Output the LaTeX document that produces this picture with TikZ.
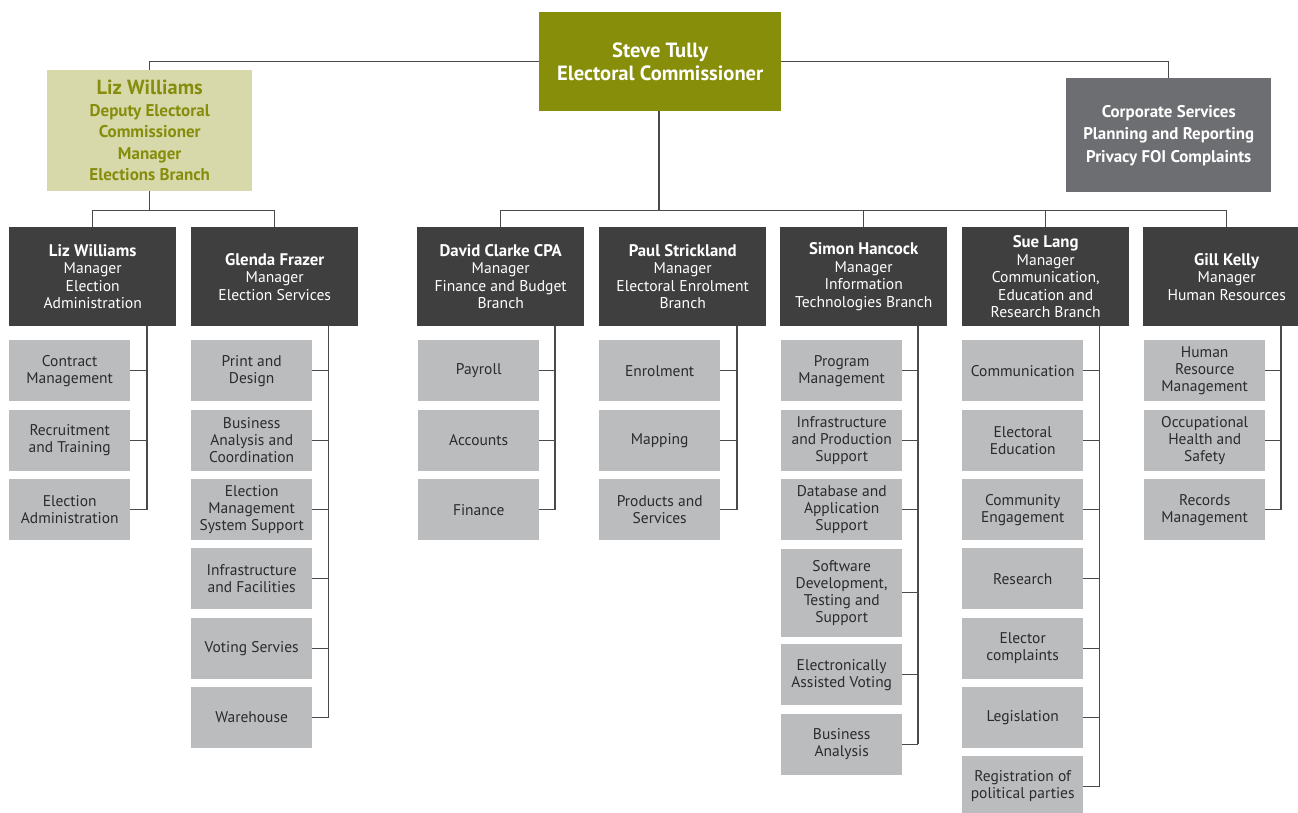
\documentclass[tikz,border=0pt]{standalone}
\usepackage{fontspec}
\setmainfont{PT Sans}
\usetikzlibrary{calc}
\definecolor{olive}{HTML}{878E0A}
\definecolor{deplight}{HTML}{D8D9AA}
\definecolor{deptext}{HTML}{868D0C}
\definecolor{corpc}{HTML}{6D6E71}
\definecolor{mgrc}{HTML}{3F3F40}
\definecolor{subc}{HTML}{BBBCBE}
\definecolor{subtext}{HTML}{2B2B2B}
\definecolor{linec}{HTML}{4A4A4A}
\tikzset{
  subbox/.style={fill=subc, text=subtext, minimum width=121pt, inner sep=0pt, align=center,
    anchor=north west, font=\fontsize{15.5}{17}\selectfont},
  mgrbox/.style={fill=mgrc, text=white, minimum width=167pt, minimum height=99pt, inner sep=0pt,
    align=center, anchor=north west, font=\fontsize{15.6}{17.5}\selectfont},
  conn/.style={draw=linec, line width=1.3pt},
}
\newcommand\mysub[5]{\node[subbox, minimum height=#4pt] (#1) at (#2,#3) {#5};}
\newcommand\nm[1]{{\bfseries\fontsize{16.8}{17.5}\selectfont #1}}
\begin{document}
\begin{tikzpicture}[x=1pt,y=-1pt]
\useasboundingbox (0,0) rectangle (1298,813);
% top level
\node[fill=olive, text=white, minimum width=242pt, minimum height=99pt, inner sep=0pt, align=center,
  anchor=north west, font=\bfseries\fontsize{20.6}{22.5}\selectfont] (steve) at (539,12)
  {Steve Tully\\Electoral Commissioner};
\node[fill=deplight, text=deptext, minimum width=205pt, minimum height=121pt, inner sep=0pt, align=center,
  anchor=north west, font=\bfseries\fontsize{17}{21.5}\selectfont] (dep) at (47,70)
  {{\fontsize{20.4}{21.5}\selectfont Liz Williams}\\Deputy Electoral\\Commissioner\\Manager\\Elections Branch};
\node[fill=corpc, text=white, minimum width=205pt, minimum height=114pt, inner sep=0pt, align=center,
  anchor=north west, font=\bfseries\fontsize{16.9}{22.5}\selectfont] (corp) at (1066,78)
  {Corporate Services\\Planning and Reporting\\Privacy FOI Complaints};
% managers
\node[mgrbox] (m1) at (9,227) {\nm{Liz Williams}\\Manager\\Election\\Administration};
\node[mgrbox] (m2) at (191,227) {\nm{Glenda Frazer}\\Manager\\Election Services};
\node[mgrbox] (m3) at (417,227) {\nm{David Clarke CPA}\\Manager\\Finance and Budget\\Branch};
\node[mgrbox] (m4) at (599,227) {\nm{Paul Strickland}\\Manager\\Electoral Enrolment\\Branch};
\node[mgrbox] (m5) at (780,227) {\nm{Simon Hancock}\\Manager\\Information\\Technologies Branch};
\node[mgrbox] (m6) at (962,227) {\nm{Sue Lang}\\Manager\\Communication,\\Education and\\Research Branch};
\node[mgrbox] (m7) at (1143,227) {\nm{Gill Kelly}\\Manager\\Human Resources};
% top connectors
\draw[conn] (steve.west) -| (dep.north);
\draw[conn] (steve.east) -| (corp.north);
\coordinate (jL) at (dep.south |- 0,210.5);
\coordinate (jM) at (659,210.5);
\draw[conn] (dep.south) -- (jL);
\draw[conn] (m1.north) |- (jL);
\draw[conn] (m2.north) |- (jL);
\draw[conn] (steve.south -| jM) -- (jM);
\draw[conn] (m3.north) |- (jM);
\draw[conn] (m5.north) |- (jM);
\draw[conn] (m6.north) |- (jM);
\draw[conn] (m7.north) |- (jM);
% column 1
\mysub{a1}{9}{340}{61}{Contract\\Management}
\mysub{a2}{9}{409.5}{61}{Recruitment\\and Training}
\mysub{a3}{9}{479}{61}{Election\\Administration}
% column 2
\mysub{b1}{191}{340}{61}{Print and\\Design}
\mysub{b2}{191}{409.5}{61}{Business\\Analysis and\\Coordination}
\mysub{b3}{191}{479}{61}{Election\\Management\\System Support}
\mysub{b4}{191}{548}{61}{Infrastructure\\and Facilities}
\mysub{b5}{191}{617.5}{61}{Voting Servies}
\mysub{b6}{191}{686.5}{61}{Warehouse}
% column 3
\mysub{c1}{418}{340}{61}{Payroll}
\mysub{c2}{418}{409.5}{61}{Accounts}
\mysub{c3}{418}{479}{61}{Finance}
% column 4
\mysub{d1}{599}{340}{61}{Enrolment}
\mysub{d2}{599}{409.5}{61}{Mapping}
\mysub{d3}{599}{479}{61}{Products and\\Services}
% column 5
\mysub{e1}{781}{340}{61}{Program\\Management}
\mysub{e2}{781}{409.5}{61}{Infrastructure\\and Production\\Support}
\mysub{e3}{781}{479}{61}{Database and\\Application\\Support}
\mysub{e4}{781}{548.5}{88}{Software\\Development,\\Testing and\\Support}
\mysub{e5}{781}{644}{61}{Electronically\\Assisted Voting}
\mysub{e6}{781}{713.5}{61}{Business\\Analysis}
% column 6
\mysub{f1}{962}{340}{61}{Communication}
\mysub{f2}{962}{409.5}{61}{Electoral\\Education}
\mysub{f3}{962}{479}{61}{Community\\Engagement}
\mysub{f4}{962}{548}{61}{Research}
\mysub{f5}{962}{617.5}{61}{Elector\\complaints}
\mysub{f6}{962}{686.5}{61}{Legislation}
\mysub{f7}{962}{755.5}{61}{Registration of\\political parties}
% column 7
\mysub{g1}{1144}{340}{61}{Human\\Resource\\Management}
\mysub{g2}{1144}{409.5}{61}{Occupational\\Health and\\Safety}
\mysub{g3}{1144}{479}{61}{Records\\Management}
% vertical spines
\coordinate (va) at (147,326);
\coordinate (vb) at (328.5,326);
\coordinate (vc) at (555,326);
\coordinate (vd) at (737,326);
\coordinate (ve) at (918,326);
\coordinate (vf) at (1099.5,326);
\coordinate (vg) at (1281,326);
\draw[conn] (va) -- (va |- a3.east);
\draw[conn] (vb) -- (vb |- b6.east);
\draw[conn] (vc) -- (vc |- c3.east);
\draw[conn] (vd) -- (vd |- d3.east);
\draw[conn] (ve) -- (ve |- e6.east);
\draw[conn] (vf) -- (vf |- f7.east);
\draw[conn] (vg) -- (vg |- g3.east);
\foreach \n in {a1,a2,a3} \draw[conn] (\n.east) -- (\n.east -| va);
\foreach \n in {b1,b2,b3,b4,b5,b6} \draw[conn] (\n.east) -- (\n.east -| vb);
\foreach \n in {c1,c2,c3} \draw[conn] (\n.east) -- (\n.east -| vc);
\foreach \n in {d1,d2,d3} \draw[conn] (\n.east) -- (\n.east -| vd);
\foreach \n in {e1,e2,e3,e4,e5,e6} \draw[conn] (\n.east) -- (\n.east -| ve);
\foreach \n in {f1,f2,f3,f4,f5,f6,f7} \draw[conn] (\n.east) -- (\n.east -| vf);
\foreach \n in {g1,g2,g3} \draw[conn] (\n.east) -- (\n.east -| vg);
\end{tikzpicture}
\end{document}
